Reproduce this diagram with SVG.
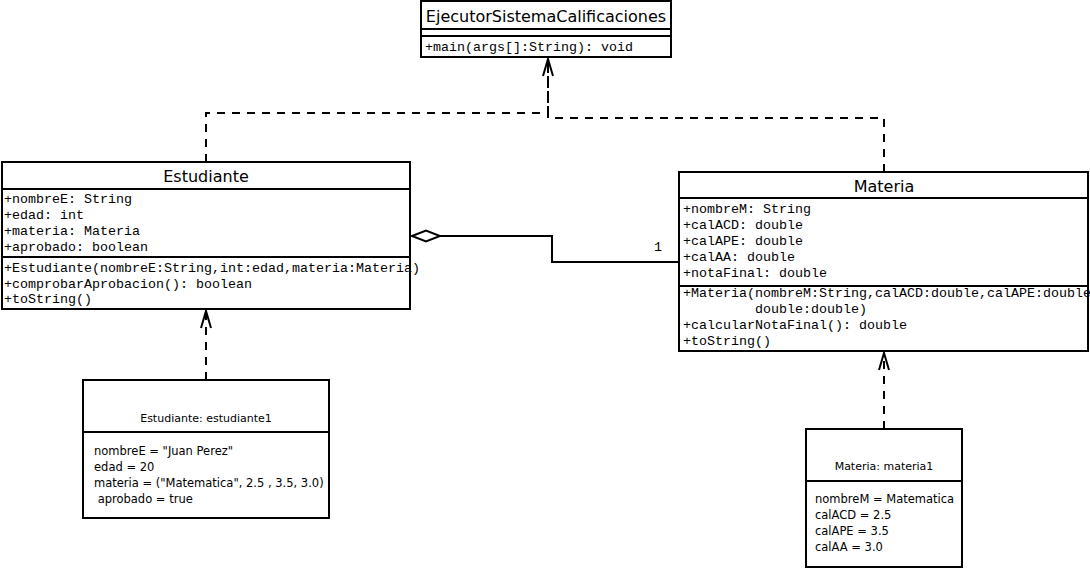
<svg xmlns="http://www.w3.org/2000/svg" width="1090" height="568" viewBox="0 0 1090 568">
<style>
.box{fill:#fff;stroke:#000;stroke-width:2}
.sep{stroke:#000;stroke-width:2}
.title{font-family:"DejaVu Sans",sans-serif;font-size:16px;fill:#000;text-anchor:middle}
.mono{font-family:"Liberation Mono","DejaVu Sans Mono",monospace;font-size:13.33px;fill:#000}
.otitle{font-family:"DejaVu Sans",sans-serif;font-size:11px;fill:#000;text-anchor:middle}
.oattr{font-family:"DejaVu Sans",sans-serif;font-size:11.5px;fill:#000}
.dash{fill:none;stroke:#000;stroke-width:2;stroke-dasharray:8 7}
.solid{fill:none;stroke:#000;stroke-width:2}
.lbl{font-family:"Liberation Mono",monospace;font-size:13.33px;fill:#000}
</style>
<defs>
<marker id="open" markerUnits="userSpaceOnUse" markerWidth="20" markerHeight="14" refX="18" refY="7" orient="auto" viewBox="0 0 20 14">
<path d="M1,2 L18,7 L1,12" fill="none" stroke="#000" stroke-width="2"/>
</marker>
</defs>
<g id="connectors">
<path class="dash" d="M206,162 V113 H548 V60"/>
<path class="dash" d="M884,172 V118 H548 V59" marker-end="url(#open)"/>
<path class="dash" d="M206,380 V311" marker-end="url(#open)"/>
<path class="dash" d="M884,429 V353" marker-end="url(#open)"/>
<path class="solid" d="M440,236 H552 V262 H679"/>
<path d="M412,236 L426,230.5 L440,236 L426,241.5 Z" fill="#fff" stroke="#000" stroke-width="2"/>
<text class="lbl" x="654" y="251">1</text>
</g>
<g id="EjecutorSistemaCalificaciones">
<rect class="box" x="421" y="1" width="250" height="56"/>
<line class="sep" x1="421" y1="29" x2="671" y2="29"/>
<line class="sep" x1="421" y1="36" x2="671" y2="36"/>
<text class="title" x="546" y="22">EjecutorSistemaCalificaciones</text>
<text class="mono" x="425" y="51">+main(args[]:String): void</text>
</g>
<g id="Estudiante">
<rect class="box" x="2" y="162" width="408" height="147"/>
<line class="sep" x1="2" y1="189" x2="410" y2="189"/>
<line class="sep" x1="2" y1="257" x2="410" y2="257"/>
<text class="title" x="206" y="182">Estudiante</text>
<text class="mono" x="4" y="203">+nombreE: String</text>
<text class="mono" x="4" y="219">+edad: int</text>
<text class="mono" x="4" y="235">+materia: Materia</text>
<text class="mono" x="4" y="251">+aprobado: boolean</text>
<text class="mono" x="4" y="272">+Estudiante(nombreE:String,int:edad,materia:Materia)</text>
<text class="mono" x="4" y="287.5">+comprobarAprobacion(): boolean</text>
<text class="mono" x="4" y="303">+toString()</text>
</g>
<g id="Materia">
<rect class="box" x="679" y="172" width="409" height="179"/>
<line class="sep" x1="679" y1="198" x2="1088" y2="198"/>
<line class="sep" x1="679" y1="286" x2="1088" y2="286"/>
<text class="title" x="884" y="192">Materia</text>
<text class="mono" x="683" y="213">+nombreM: String</text>
<text class="mono" x="683" y="229">+calACD: double</text>
<text class="mono" x="683" y="245">+calAPE: double</text>
<text class="mono" x="683" y="261">+calAA: double</text>
<text class="mono" x="683" y="277">+notaFinal: double</text>
<text class="mono" x="683" y="297">+Materia(nombreM:String,calACD:double,calAPE:double</text>
<text class="mono" x="755" y="313">double:double)</text>
<text class="mono" x="683" y="329">+calcularNotaFinal(): double</text>
<text class="mono" x="683" y="345">+toString()</text>
</g>
<g id="estudiante1">
<rect class="box" x="83" y="380" width="246" height="138"/>
<line class="sep" x1="83" y1="432" x2="329" y2="432"/>
<text class="otitle" x="206" y="422">Estudiante: estudiante1</text>
<text class="oattr" x="94" y="455">nombreE = "Juan Perez"</text>
<text class="oattr" x="94" y="471">edad = 20</text>
<text class="oattr" x="94" y="487">materia = ("Matematica", 2.5 , 3.5, 3.0)</text>
<text class="oattr" x="94" y="503" xml:space="preserve"> aprobado = true</text>
</g>
<g id="materia1">
<rect class="box" x="806" y="429" width="156" height="138"/>
<line class="sep" x1="806" y1="481" x2="962" y2="481"/>
<text class="otitle" x="884" y="470">Materia: materia1</text>
<text class="oattr" x="815" y="503">nombreM = Matematica</text>
<text class="oattr" x="815" y="519">calACD = 2.5</text>
<text class="oattr" x="815" y="535">calAPE = 3.5</text>
<text class="oattr" x="815" y="551">calAA = 3.0</text>
</g>
</svg>
